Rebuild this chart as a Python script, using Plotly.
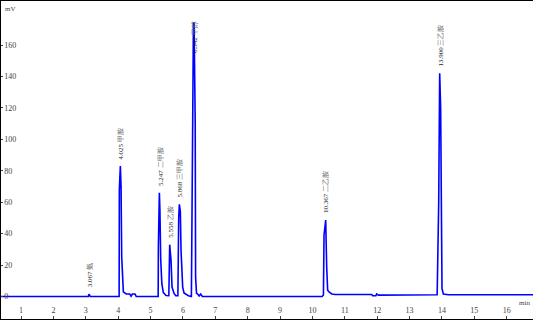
import plotly.graph_objects as go

# Chromatogram signal (min, mV)
time_min = [0.0, 3.08, 3.10, 3.12, 3.14,
            4.030, 4.037, 4.068, 4.090, 4.110, 4.135, 4.161, 4.25, 4.36, 4.40, 4.44, 4.52, 4.56,
            5.236, 5.242, 5.273, 5.290, 5.314, 5.350, 5.396, 5.479,
            5.565, 5.571, 5.592, 5.633, 5.664, 5.726, 5.78,
            5.845, 5.852, 5.870, 5.890, 5.921, 5.942, 5.993, 6.034, 6.168,
            6.262, 6.290, 6.325, 6.345, 6.380, 6.392, 6.420, 6.46, 6.50, 6.55, 6.60,
            10.30, 10.34, 10.358, 10.389, 10.41, 10.44, 10.47, 10.52, 10.60, 10.70,
            11.83, 11.86, 11.96, 11.985, 12.04,
            13.852, 13.862, 13.90, 13.930, 13.960, 14.002, 14.043, 14.198, 16.9]
signal_mv = [0.0, 0.0, 1.5, 0.0, 0.0,
             0.0, 68.0, 83.0, 70.0, 25.0, 8.0, 3.0, 1.6, 1.6, 0.2, 1.6, 1.6, 0.0,
             0.0, 31.7, 66.0, 55.0, 24.0, 8.0, 2.5, 0.6,
             0.5, 14.0, 33.0, 23.0, 6.0, 2.0, 0.5,
             0.5, 20.0, 50.0, 58.7, 54.0, 29.6, 6.0, 2.3, 0.5,
             0.0, 106.0, 174.0, 174.0, 111.0, 12.0, 2.0, 1.5, 0.3, 1.5, 0.0,
             0.0, 1.0, 39.0, 47.0, 48.7, 19.0, 4.0, 2.8, 1.6, 1.3,
             1.3, 0.5, 0.5, 1.6, 0.9,
             1.17, 10.5, 60.0, 142.0, 120.0, 5.0, 1.6, 1.17, 1.17]

# Peak annotations
peak_times = [3.111, 4.068, 5.273, 5.592, 5.890, 6.335, 10.41, 13.94]
peak_heights = [1.5, 83.0, 66.0, 33.0, 58.7, 174.0, 48.7, 142.0]
peak_rt_labels = ["3.067", "4.025", "5.247", "5.558", "5.868", "6.342", "10.367", "13.900"]
peak_names = ["氨", "甲胺", "二甲胺", "乙胺", "三甲胺", "甲醇", "二乙胺", "三乙胺"]

x_ticks = list(range(1, 17))
y_ticks = list(range(0, 161, 20))

fig = go.Figure()
fig.add_trace(go.Scatter(x=time_min, y=signal_mv, mode="lines",
                         line=dict(color="#0000ff", width=1.6), hoverinfo="skip"))

font_serif = "Liberation Serif, Times New Roman, serif"
for t, h, rt, nm in zip(peak_times, peak_heights, peak_rt_labels, peak_names):
    fig.add_annotation(x=t, y=min(h + 3.0, 153.5), xref="x", yref="y",
                       text=f"<span style='color:#222'>{rt}</span> <span style='color:#666'>{nm}</span>",
                       textangle=-90, showarrow=False, xanchor="center", yanchor="bottom",
                       font=dict(family=font_serif, size=7), xshift=1)

fig.add_annotation(x=0.004, y=0.995, xref="paper", yref="paper", text="mV", showarrow=False,
                   xanchor="left", yanchor="top", font=dict(family=font_serif, size=7, color="#444"))
fig.add_annotation(x=0.998, y=0.03, xref="paper", yref="paper", text="min", showarrow=False,
                   xanchor="right", yanchor="bottom", font=dict(family=font_serif, size=7, color="#444"))

fig.update_layout(
    width=534, height=320,
    margin=dict(l=1, r=1, t=1, b=1),
    paper_bgcolor="white", plot_bgcolor="white",
    showlegend=False,
    xaxis=dict(range=[0.382, 16.812], tickvals=x_ticks, ticks="inside", ticklen=3,
               ticklabelposition="inside", showgrid=False, zeroline=False,
               showline=True, linecolor="black", linewidth=1.2, mirror=True,
               tickfont=dict(family=font_serif, size=8, color="#444")),
    yaxis=dict(range=[-14.3, 188.0], tickvals=y_ticks, ticks="inside", ticklen=2,
               ticklabelposition="inside", showgrid=False, zeroline=False,
               showline=True, linecolor="black", linewidth=1.5,
               tickfont=dict(family=font_serif, size=8, color="#444")),
)

fig.write_html("out.html")
